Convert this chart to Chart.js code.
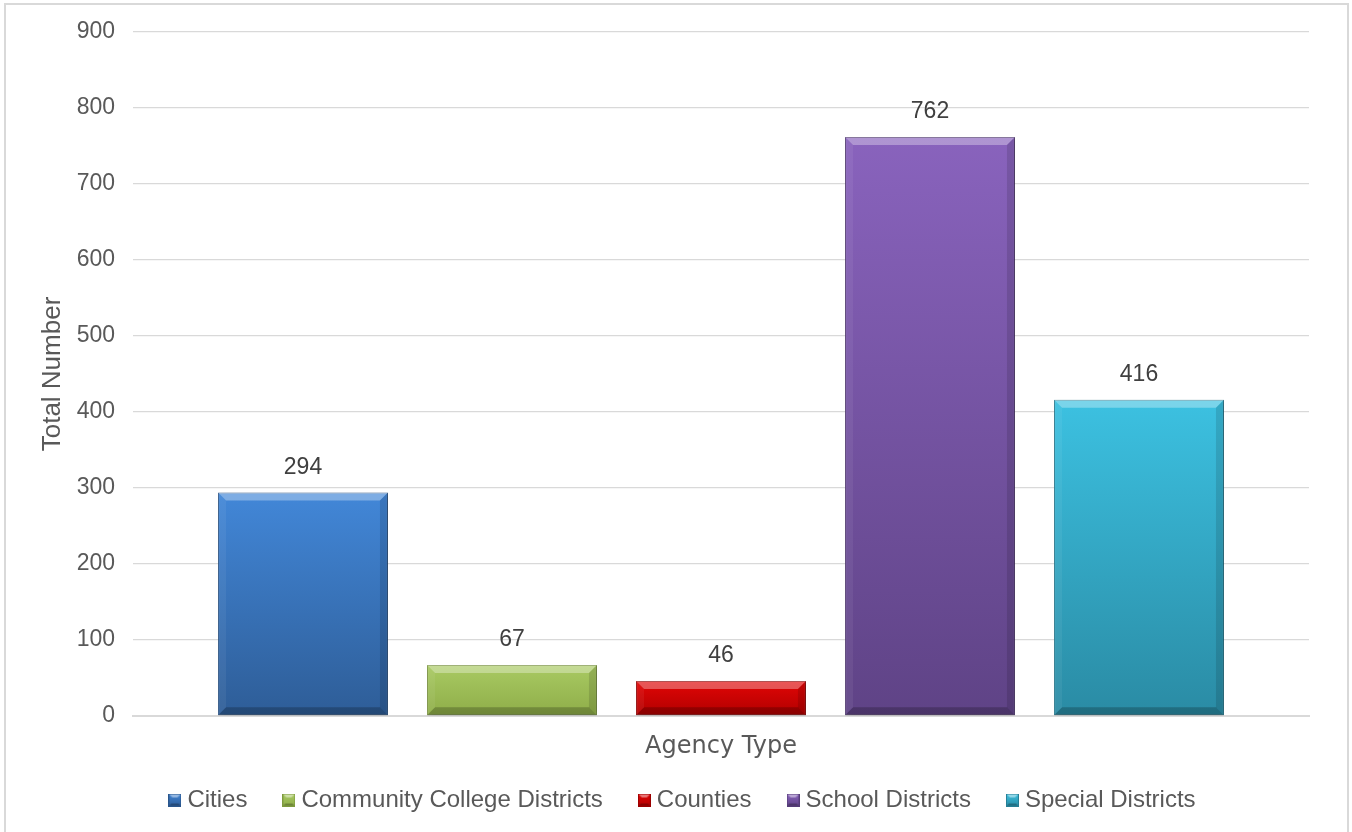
<!DOCTYPE html>
<html>
<head>
<meta charset="utf-8">
<script src="https://cdn.jsdelivr.net/npm/chart.js@4.4.1/dist/chart.umd.min.js"></script>
<style>
html,body{margin:0;padding:0;background:#fff;}
canvas{display:block;}
</style>
</head>
<body>
<canvas id="c" width="1352" height="832"></canvas>
<script>
const categories = ['Cities', 'Community College Districts', 'Counties', 'School Districts', 'Special Districts'];
const values = [294, 67, 46, 762, 416];
const yTicks = [0, 100, 200, 300, 400, 500, 600, 700, 800, 900];
const topColors = ['#4287D8', '#A9CA63', '#E20606', '#8963BD', '#3CC1E1'];
const bottomColors = ['#2E5D97', '#8EAD48', '#B00000', '#5F4386', '#2A8BA4'];
const edgeColors = ['#2A568C', '#7E9A3F', '#9A0000', '#553C78', '#267E95'];

const FONT = '"Liberation Sans", Arial, sans-serif';
const FONT2 = '"DejaVu Sans", Verdana, sans-serif';

function markerCanvas(i) {
  const s = 13;
  const c = document.createElement('canvas');
  c.width = s; c.height = s;
  const x = c.getContext('2d');
  const g = x.createLinearGradient(0, 0, 0, s);
  g.addColorStop(0, topColors[i]); g.addColorStop(1, bottomColors[i]);
  x.fillStyle = g; x.fillRect(0, 0, s, s);
  x.fillStyle = 'rgba(255,255,255,0.45)';
  x.beginPath(); x.moveTo(0,0); x.lineTo(s,0); x.lineTo(s-4,4); x.lineTo(4,4); x.closePath(); x.fill();
  x.fillStyle = 'rgba(0,0,0,0.25)';
  x.beginPath(); x.moveTo(0,s); x.lineTo(s,s); x.lineTo(s-3,s-3); x.lineTo(3,s-3); x.closePath(); x.fill();
  x.strokeStyle = edgeColors[i]; x.lineWidth = 1; x.strokeRect(0.5,0.5,s-1,s-1);
  return c;
}

const datasets = categories.map((name, i) => ({
  label: name,
  data: [values[i]],
  backgroundColor: (ctx) => {
    const chart = ctx.chart;
    if (!chart.chartArea || ctx.raw === undefined) return topColors[i];
    const ys = chart.scales.y;
    const top = ys.getPixelForValue(ctx.raw);
    const bot = ys.getPixelForValue(0);
    const g = chart.ctx.createLinearGradient(0, top, 0, bot);
    g.addColorStop(0, topColors[i]);
    g.addColorStop(1, bottomColors[i]);
    return g;
  },
  borderColor: edgeColors[i],
  borderWidth: 1,
  borderSkipped: false,
  categoryPercentage: 0.8886,
  barPercentage: 0.813,
  pointStyle: markerCanvas(i)
}));

const framePlugin = {
  id: 'frame',
  beforeDraw(chart) {
    const c = chart.ctx;
    c.save();
    c.fillStyle = '#ffffff';
    c.fillRect(0, 0, chart.width, chart.height);
    c.strokeStyle = '#d9d9d9';
    c.lineWidth = 2;
    c.strokeRect(5, 4, 1343, 840);
    c.restore();
  }
};

const legendShift = {
  id: 'legendShift',
  afterLayout(chart) {
    const lg = chart.legend;
    if (lg) { lg.left += 12; lg.right += 12; }
  }
};

const shadowPlugin = {
  id: 'barShadow',
  beforeDatasetDraw(chart) {
    const c = chart.ctx;
    c.save();
    c.shadowColor = 'rgba(0,0,0,0.28)';
    c.shadowBlur = 6;
    c.shadowOffsetX = 1;
    c.shadowOffsetY = 1;
  },
  afterDatasetDraw(chart) {
    chart.ctx.restore();
  }
};

const bevelPlugin = {
  id: 'bevel',
  afterDatasetsDraw(chart) {
    const c = chart.ctx;
    chart.data.datasets.forEach((ds, i) => {
      const meta = chart.getDatasetMeta(i);
      meta.data.forEach((el) => {
        const p = el.getProps(['x', 'y', 'base', 'width'], true);
        const l = p.x - p.width / 2, r = p.x + p.width / 2, t = p.y, b = p.base;
        const bv = Math.min(8, (b - t) / 2);
        c.save();
        c.fillStyle = 'rgba(255,255,255,0.32)';
        c.beginPath(); c.moveTo(l, t); c.lineTo(r, t); c.lineTo(r - bv, t + bv); c.lineTo(l + bv, t + bv); c.closePath(); c.fill();
        c.fillStyle = 'rgba(255,255,255,0.06)';
        c.beginPath(); c.moveTo(l, t); c.lineTo(l + bv, t + bv); c.lineTo(l + bv, b - bv); c.lineTo(l, b); c.closePath(); c.fill();
        c.fillStyle = 'rgba(0,0,0,0.12)';
        c.beginPath(); c.moveTo(r, t); c.lineTo(r - bv, t + bv); c.lineTo(r - bv, b - bv); c.lineTo(r, b); c.closePath(); c.fill();
        c.fillStyle = 'rgba(0,0,0,0.22)';
        c.beginPath(); c.moveTo(l, b); c.lineTo(r, b); c.lineTo(r - bv, b - bv); c.lineTo(l + bv, b - bv); c.closePath(); c.fill();
        c.restore();
      });
    });
  }
};

const labelPlugin = {
  id: 'valueLabels',
  afterDatasetsDraw(chart) {
    const c = chart.ctx;
    c.save();
    c.font = '23px ' + FONT;
    c.fillStyle = '#404040';
    c.textAlign = 'center';
    c.textBaseline = 'middle';
    chart.data.datasets.forEach((ds, i) => {
      const meta = chart.getDatasetMeta(i);
      meta.data.forEach((el, j) => {
        c.fillText(String(ds.data[j]), el.x, el.y - 25);
      });
    });
    c.restore();
  }
};

new Chart(document.getElementById('c'), {
  type: 'bar',
  data: { labels: [''], datasets },
  options: {
    responsive: false,
    devicePixelRatio: 1,
    animation: false,
    layout: { padding: { left: 37, right: 43, top: 32, bottom: 10 } },
    scales: {
      x: {
        grid: { display: false },
        border: { display: true, color: '#d9d9d9', width: 2 },
        ticks: { display: false },
        title: {
          display: true,
          text: 'Agency Type',
          color: '#595959',
          font: { family: FONT2, size: 24 },
          padding: { top: 0, bottom: -14.4 }
        },
        afterFit(scale) { scale.height = 31; }
      },
      y: {
        min: 0,
        max: 900,
        afterBuildTicks(scale) { scale.ticks = yTicks.map(v => ({ value: v })); },
        grid: { color: '#d9d9d9', lineWidth: 1.3, drawTicks: false },
        border: { display: false },
        ticks: {
          color: '#595959',
          font: { family: FONT, size: 23 },
          padding: 18
        },
        title: {
          display: true,
          text: 'Total Number',
          color: '#595959',
          font: { family: FONT, size: 26 },
          padding: { top: 0, bottom: 0 }
        },
        afterFit(scale) { scale.width = 96; }
      }
    },
    plugins: {
      legend: {
        position: 'bottom',
        labels: {
          usePointStyle: true,
          boxWidth: 1,
          boxHeight: 13,
          padding: 41,
          color: '#595959',
          font: { family: FONT, size: 24 }
        }
      },
      tooltip: { enabled: false }
    }
  },
  plugins: [framePlugin, legendShift, shadowPlugin, bevelPlugin, labelPlugin]
});
</script>
</body>
</html>
